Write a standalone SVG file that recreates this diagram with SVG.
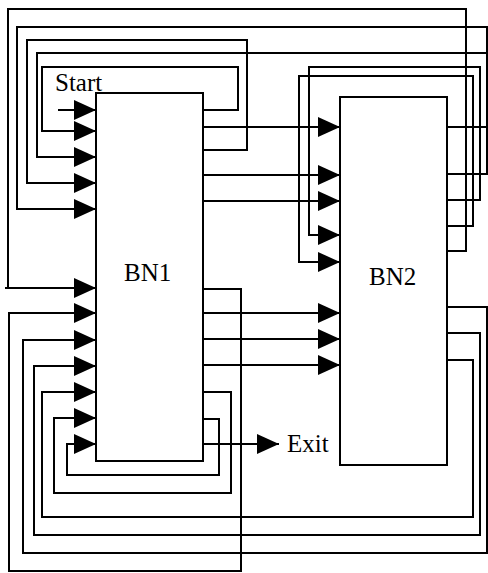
<svg xmlns="http://www.w3.org/2000/svg" width="488" height="573" viewBox="0 0 488 573">
<style>
.box{fill:#fff;stroke:#000;stroke-width:2}
.lbl{font-family:"Liberation Serif","Times New Roman",serif;font-size:25px;fill:#000}
.c{fill:none;stroke:#000;stroke-width:2}
.a{marker-end:url(#ah)}
</style>
<defs>
<marker id="ah" viewBox="0 0 22 20" refX="22" refY="10" markerWidth="22" markerHeight="20" markerUnits="userSpaceOnUse" orient="auto">
<path d="M0,0 L22,10 L0,20 z" fill="#000"/>
</marker>
</defs>
<rect width="488" height="573" fill="#fff"/>
<g id="connectors">
<path class="c a" d="M58,110 H96"/>
<path class="c a" d="M203,110 H238 V67 H42 V131 H96"/>
<path class="c a" d="M488,53 H37 V157 H96"/>
<path class="c a" d="M203,150 H247 V40 H27 V183 H96"/>
<path class="c a" d="M447,174 H487 V27 H17 V209 H96"/>
<path class="c" d="M447,127 H488"/>
<path class="c a" d="M203,127 H340"/>
<path class="c a" d="M203,175 H340"/>
<path class="c a" d="M203,201 H340"/>
<path class="c a" d="M447,200 H480 V67 H309 V235 H340"/>
<path class="c a" d="M447,226 H473 V76 H299 V262 H340"/>
<path class="c a" d="M447,251 H466 V9 H8 V288 H5 H96"/>
<path class="c a" d="M203,289 H241 V571 H9 V313 H96"/>
<path class="c a" d="M203,313 H340"/>
<path class="c a" d="M203,339 H340"/>
<path class="c a" d="M203,365 H340"/>
<path class="c a" d="M447,307 H487 V553 H23 V340 H96"/>
<path class="c a" d="M447,333 H480 V535 H34 V366 H96"/>
<path class="c a" d="M447,360 H473 V517 H42 V392 H96"/>
<path class="c a" d="M203,392 H231 V493 H54 V418 H96"/>
<path class="c a" d="M203,419 H219 V475 H67 V444 H96"/>
<path class="c a" d="M203,444 H279"/>
</g>
<g id="BN1">
<rect class="box" x="96" y="93" width="107" height="368"/>
<text class="lbl" x="124" y="281">BN1</text>
</g>
<g id="BN2">
<rect class="box" x="340" y="97" width="107" height="368"/>
<text class="lbl" x="369" y="285">BN2</text>
</g>
<g id="Start">
<text class="lbl" x="55" y="91">Start</text>
</g>
<g id="Exit">
<text class="lbl" x="287" y="452">Exit</text>
</g>
</svg>
